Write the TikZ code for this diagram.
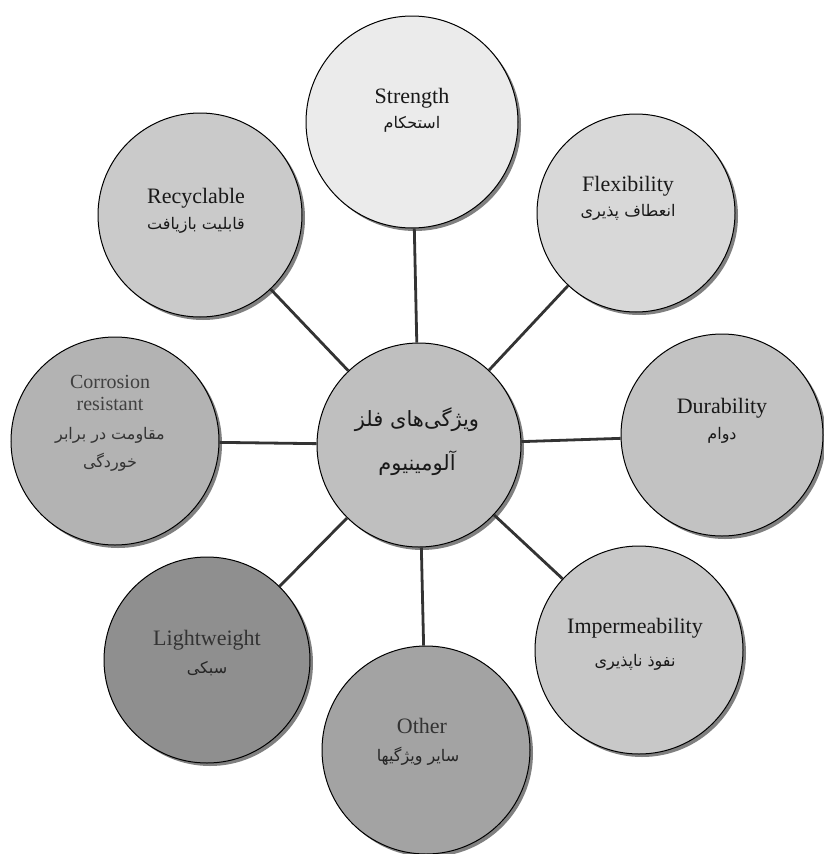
\documentclass[tikz,border=0pt]{standalone}
\usepackage{fontspec}
\setmainfont{Liberation Serif}
\newfontfamily\fa[Script=Arabic]{DejaVu Sans}
\TeXXeTstate=1
\usetikzlibrary{shadows}
\definecolor{cStr}{HTML}{EBEBEB}
\definecolor{cFlex}{HTML}{D8D8D8}
\definecolor{cRec}{HTML}{CACACA}
\definecolor{cCor}{HTML}{B3B3B3}
\definecolor{cCen}{HTML}{BFBFBF}
\definecolor{cDur}{HTML}{C2C2C2}
\definecolor{cLig}{HTML}{8F8F8F}
\definecolor{cOth}{HTML}{A3A3A3}
\definecolor{cImp}{HTML}{C8C8C8}
\begin{document}
\begin{tikzpicture}[x=1pt,y=-1pt,
  bub/.style={circle,draw=black,line width=1pt,inner sep=0pt,minimum size=#1,
    drop shadow={shadow xshift=3pt,shadow yshift=-3pt,fill=black!50,opacity=1}},
  conn/.style={line width=2.8pt,draw=black!80},
  en/.style={anchor=base,inner sep=0pt,font=\fontsize{22}{26}\selectfont,text=black!90},
  fa/.style={anchor=base,inner sep=0pt,font=\fa\fontsize{16}{20}\selectfont,text=black!90}
]
\useasboundingbox[fill=white] (0,0) rectangle (823,854);
% bubbles
\node[bub=212pt,fill=cStr] (s) at (412,122) {};
\node[bub=198pt,fill=cFlex] (f) at (636,213) {};
\node[bub=204pt,fill=cRec] (r) at (200,215) {};
\node[bub=208pt,fill=cCor] (k) at (115,441) {};
\node[bub=204pt,fill=cCen] (c) at (419,445) {};
\node[bub=202pt,fill=cDur] (d) at (722,435) {};
\node[bub=206pt,fill=cLig] (l) at (207,660) {};
\node[bub=208pt,fill=cOth] (o) at (426,750) {};
\node[bub=208pt,fill=cImp] (i) at (639,650) {};
% connectors
\foreach \t in {s,f,r,k,d,l,o,i}{\draw[conn] (c) -- (\t);}
% labels
\node[en] (s1) at (412,103) {Strength};
\node[fa] (s2) at (412,128) {\beginR استحکام\endR};
\node[en] (f1) at (628,191) {Flexibility};
\node[fa] (f2) at (628,216) {\beginR انعطاف پذیری\endR};
\node[en] (r1) at (196,203) {Recyclable};
\node[fa] (r2) at (196,229) {\beginR قابلیت بازیافت\endR};
\node[en,font=\fontsize{20}{24}\selectfont,text=black!75] (k1) at (110,388) {Corrosion};
\node[en,font=\fontsize{20}{24}\selectfont,text=black!75] (k2) at (110,410) {resistant};
\node[fa,text=black!80] (k3) at (110,439) {\beginR مقاومت در برابر\endR};
\node[fa,text=black!80] (k4) at (110,467) {\beginR خوردگی\endR};
\node[fa,font=\fa\fontsize{21}{26}\selectfont] (c1) at (417,426) {\beginR ویژگی‌های فلز\endR};
\node[fa,font=\fa\fontsize{21}{26}\selectfont] (c2) at (417,470) {\beginR آلومینیوم\endR};
\node[en] (d1) at (722,413) {Durability};
\node[fa] (d2) at (722,439) {\beginR دوام\endR};
\node[en,text=black!80] (l1) at (207,645) {Lightweight};
\node[fa,text=black!85] (l2) at (207,673) {\beginR سبکی\endR};
\node[en,text=black!80] (o1) at (422,733) {Other};
\node[fa,text=black!85] (o2) at (418,761) {\beginR سایر ویژگیها\endR};
\node[en] (i1) at (635,633) {Impermeability};
\node[fa] (i2) at (635,666) {\beginR نفوذ ناپذیری\endR};
\end{tikzpicture}
\end{document}
